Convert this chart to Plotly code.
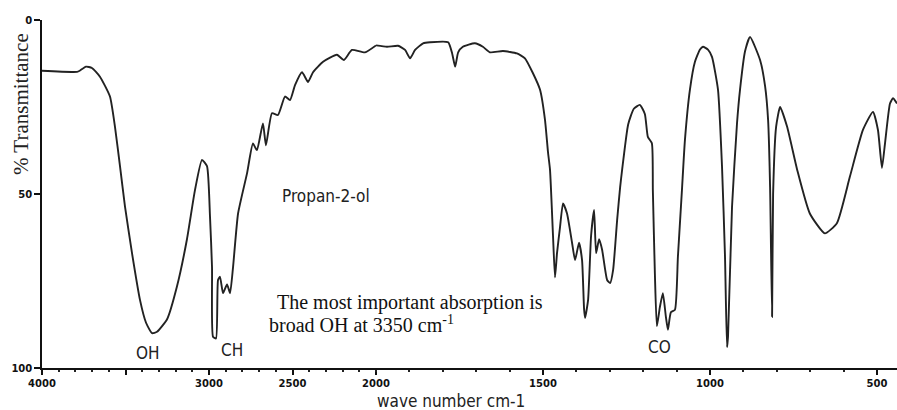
import numpy as np
import plotly.graph_objects as go

# IR spectrum of propan-2-ol (wavenumber in cm-1, signal in % on the inverted scale)
wavenumber = [
    4000, 3790, 3772, 3737, 3701, 3653, 3593, 3563, 3533, 3503, 3461, 3413, 3377,
    3341, 3311, 3251, 3192, 3132, 3084, 3042, 3012, 2994, 2982, 2976, 2958, 2946,
    2934, 2916, 2892, 2874, 2856, 2826, 2772, 2737, 2713, 2677, 2659, 2623, 2587,
    2545, 2515, 2485, 2443, 2407, 2377, 2317, 2234, 2192, 2144, 2066, 2000,
    1967, 1934, 1913, 1898, 1883, 1859, 1838, 1784, 1772, 1763, 1754, 1740, 1704,
    1680, 1659, 1620, 1578, 1554, 1530, 1509, 1494, 1485, 1479, 1470, 1464, 1458,
    1449, 1440, 1428, 1413, 1404, 1392, 1383, 1377, 1374, 1365, 1356, 1347, 1341,
    1332, 1323, 1308, 1299, 1290, 1278, 1269, 1263, 1245, 1228, 1210, 1195, 1186,
    1174, 1171, 1165, 1159, 1150, 1141, 1132, 1126, 1117, 1105, 1096, 1084, 1075,
    1060, 1045, 1030, 1021, 1006, 994, 976, 964, 955, 949, 946, 934, 919, 910, 895,
    880, 850, 835, 826, 820, 814, 811, 802, 790, 769, 739, 701, 656, 620, 581, 542,
    512, 497, 485, 476, 461, 452, 440,
]
signal = [
    14.6, 14.9, 14.5, 13.4, 13.8, 16.3, 22.0, 30.7, 42.0, 53.6, 67.0, 80.5, 87.0,
    90.0, 89.6, 86.0, 76.6, 63.0, 48.9, 40.2, 42.0, 56.5, 71.0, 91.0, 91.5, 74.7,
    73.8, 78.5, 76.0, 78.5, 71.0, 55.6, 44.0, 35.5, 37.4, 29.7, 36.0, 26.8, 27.3,
    22.0, 23.0, 18.7, 15.0, 17.8, 15.0, 12.0, 10.0, 11.5, 8.6, 9.3, 7.3,
    7.7, 7.4, 8.6, 11.0, 8.6, 6.7, 6.4, 6.4, 9.6, 13.4, 9.3, 7.7, 6.7,
    7.7, 9.3, 8.9, 9.6, 11.0, 15.3, 20.0, 28.7, 38.0, 43.0, 62.0, 74.0, 67.0,
    59.5, 52.7, 55.6, 64.0, 69.0, 64.0, 69.0, 83.0, 85.6, 80.5, 62.0, 54.6, 67.0,
    63.0, 66.0, 74.7, 75.6, 71.8, 57.5, 48.0, 43.0, 30.0, 25.5, 24.4, 27.0, 33.6,
    35.4, 49.0, 72.8, 88.0, 82.5, 78.5, 85.3, 89.0, 84.0, 83.3, 68.0, 49.0, 34.5,
    20.0, 12.0, 8.5, 7.7, 8.5, 10.6, 20.0, 42.0, 68.0, 94.0, 91.0, 53.7, 29.6, 20.0, 9.0,
    4.9, 11.5, 19.0, 28.7, 48.0, 85.3, 50.0, 30.7, 25.0, 30.7, 43.0, 55.6, 61.3, 58.4, 45.0, 31.6,
    26.4, 31.6, 42.5, 35.5, 24.0, 22.5, 24.0,
]

# The wavenumber scale changes at 2000 cm-1, so the spectrum is drawn on two axes
split = 2000
wn = np.array(wavenumber, dtype=float)
sig = np.array(signal, dtype=float)
high = wn >= split
low = wn <= split

high_ticks = [4000, 3500, 3000, 2500, 2000]
high_labels = ["4000", " ", "3000", "2500", "2000"]
low_ticks = [1500, 1000, 500]
low_labels = ["1500", "1000", "500"]
y_ticks = [0, 50, 100]

W, H = 897, 410
ML, MR, MT, MB = 42, 0, 20, 42
PW, PH = W - ML - MR, H - MT - MB
split_frac = (376 - ML) / PW


def px_x(p):
    """Horizontal page pixel -> paper fraction."""
    return (p - ML) / PW


def px_y(p):
    """Vertical page pixel -> paper fraction."""
    return (H - MB - p) / PH


line = dict(color="#222222", width=1.9, shape="spline", smoothing=0.5)
tickfont = dict(family="DejaVu Sans", size=10, color="#111", weight="bold")
axis_common = dict(
    showline=True, linecolor="#111", linewidth=1.5, showgrid=False, zeroline=False,
    ticks="outside", ticklen=5, tickwidth=1.5, tickcolor="#111", tickfont=tickfont,
    minor=dict(dtick=100, ticks="outside", ticklen=2, tickwidth=1.5, tickcolor="#222"),
    fixedrange=True, automargin=False,
)

fig = go.Figure()
fig.add_trace(go.Scatter(x=wn[high], y=sig[high], mode="lines", line=line,
                         xaxis="x", yaxis="y", showlegend=False, hoverinfo="skip"))
fig.add_trace(go.Scatter(x=wn[low], y=sig[low], mode="lines", line=line,
                         xaxis="x2", yaxis="y", showlegend=False, hoverinfo="skip"))

narrow = "DejaVu Sans Condensed, Liberation Sans Narrow, sans-serif"
serif = "Liberation Serif, Times New Roman, serif"
label_font = dict(family=narrow, size=17, color="#222")

annotations = [
    dict(text="% Transmittance", xref="paper", yref="paper", x=px_x(21), y=px_y(104),
         xanchor="center", yanchor="middle", textangle=-90, showarrow=False,
         font=dict(family=serif, size=21, color="#222")),
    dict(text="wave number cm-1", xref="paper", yref="paper", x=px_x(451), y=px_y(401),
         xanchor="center", yanchor="middle", showarrow=False, font=label_font),
    dict(text="OH", xref="x", yref="y", x=3368, y=95.7, showarrow=False, font=label_font),
    dict(text="CH", xref="x", yref="y", x=2864, y=94.8, showarrow=False, font=label_font),
    dict(text="CO", xref="x2", yref="y", x=1150, y=94.0, showarrow=False, font=label_font),
    dict(text="Propan-2-ol", xref="x", yref="y", x=2300, y=50.6, showarrow=False,
         font=label_font),
    dict(text="The most important absorption is", xref="paper", yref="paper",
         x=px_x(275), y=px_y(302), xanchor="left", yanchor="middle", showarrow=False,
         font=dict(family=serif, size=20, color="#111")),
    dict(text="broad OH at 3350 cm<sup>-1</sup>", xref="paper", yref="paper",
         x=px_x(267), y=px_y(324), xanchor="left", yanchor="middle", showarrow=False,
         font=dict(family=serif, size=20, color="#111")),
]

fig.update_layout(
    width=W, height=H, autosize=False,
    margin=dict(l=ML, r=MR, t=MT, b=MB, pad=0, autoexpand=False),
    paper_bgcolor="white", plot_bgcolor="white",
    xaxis=dict(domain=[0, split_frac], range=[4000, split], tickvals=high_ticks,
               ticktext=high_labels, anchor="y", **axis_common),
    xaxis2=dict(domain=[split_frac, 1], range=[split, 440], tickvals=low_ticks,
                ticktext=low_labels, anchor="y", **axis_common),
    yaxis=dict(range=[100, 0], tickvals=y_ticks, ticktext=[str(v) for v in y_ticks],
               showline=True, linecolor="#111", linewidth=1.5, showgrid=False,
               zeroline=False, ticks="outside", ticklen=6, tickwidth=1.5,
               tickcolor="#111", tickfont=tickfont, fixedrange=True, automargin=False),
    annotations=annotations,
)

fig.write_html("out.html")
